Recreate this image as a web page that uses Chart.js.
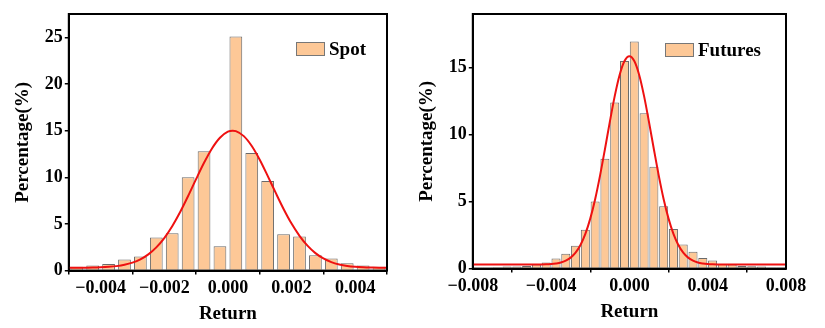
<!DOCTYPE html>
<html>
<head>
<meta charset="utf-8">
<script src="https://cdn.jsdelivr.net/npm/chart.js@4"></script>
<style>
  body { margin: 0; background: #fff; width: 825px; height: 328px; overflow: hidden; position: relative; }
  .box { position: absolute; top: 0; height: 328px; }
  .legend { position: absolute; display: flex; align-items: center; height: 18px;
            font: bold 19px 'Liberation Serif', 'Times New Roman', serif; color: #000; }
  .legend span.sw { width: 27px; height: 12px; border: 1px solid #777; margin-right: 4px; }
</style>
</head>
<body>
<div class="box" style="left:0;width:410px"><canvas id="spotChart"></canvas></div>
<div class="box" style="left:410px;width:415px"><canvas id="futChart"></canvas></div>
<div class="legend" id="spotLegend" style="left:296px;top:40px"></div>
<div class="legend" id="futLegend" style="left:665px;top:41px"></div>
<script>
// Spot: histogram (bin centres, bin width 0.0005) and fitted curve
const spotBins = [-0.00475,-0.00425,-0.00375,-0.00325,-0.00275,-0.00225,-0.00175,-0.00125,-0.00075,-0.00025,
                  0.00025,0.00075,0.00125,0.00175,0.00225,0.00275,0.00325,0.00375,0.00425,0.00475];
const spotPct = [0.4,0.55,0.7,1.2,1.5,3.55,4.0,10.0,12.8,2.6,25.1,12.6,9.6,3.9,3.65,1.65,1.3,0.8,0.55,0.4];
const spotCurveX = [-0.005,-0.00475,-0.0045,-0.00425,-0.004,-0.00375,-0.0035,-0.00325,-0.003,-0.00275,
                    -0.0025,-0.00225,-0.002,-0.00175,-0.0015,-0.00125,-0.001,-0.00075,-0.0005,-0.00025,
                    0,0.00015,0.00025,0.0005,0.00075,0.001,0.00125,0.0015,0.00175,0.002,
                    0.00225,0.0025,0.00275,0.003,0.00325,0.0035,0.00375,0.004,0.00425,0.0045,0.00475,0.005];
const spotCurveY = [0.30,0.30,0.31,0.32,0.35,0.40,0.48,0.62,0.85,1.21,
                    1.74,2.49,3.49,4.76,6.28,7.99,9.80,11.55,13.09,14.24,
                    14.89,15.0,14.95,14.41,13.35,11.88,10.15,8.35,6.61,5.04,
                    3.73,2.67,1.87,1.30,0.91,0.66,0.50,0.41,0.36,0.33,0.31,0.31];
const spotXTicks = [-0.004,-0.002,0,0.002,0.004];
const spotYTicks = [0,5,10,15,20,25];

// Futures: histogram and fitted curve
const futBins = [-0.00775,-0.00725,-0.00675,-0.00625,-0.00575,-0.00525,-0.00475,-0.00425,-0.00375,-0.00325,
                 -0.00275,-0.00225,-0.00175,-0.00125,-0.00075,-0.00025,0.00025,0.00075,0.00125,0.00175,
                 0.00225,0.00275,0.00325,0.00375,0.00425,0.00475,0.00525,0.00575,0.00625,0.00675,0.00725,0.00775];
const futPct = [0.05,0.05,0.1,0.15,0.15,0.2,0.3,0.45,0.75,1.1,
                1.7,2.9,5.0,8.2,12.4,15.5,16.95,11.6,7.6,4.65,
                2.95,1.8,1.25,0.8,0.6,0.35,0.3,0.2,0.18,0.15,0.08,0.08];
const futCurveX = [-0.008,-0.007,-0.006,-0.005,-0.0045,-0.00425,-0.004,-0.00375,-0.0035,-0.00325,-0.003,-0.00275,
                   -0.0025,-0.00225,-0.002,-0.00175,-0.0015,-0.00125,-0.001,-0.00075,-0.0005,-0.00025,
                   0,0.00025,0.0005,0.00075,0.001,0.00125,0.0015,0.00175,0.002,0.00225,0.0025,
                   0.00275,0.003,0.00325,0.0035,0.00375,0.004,0.00425,0.0045,0.005,0.006,0.007,0.008];
const futCurveY = [0.30,0.30,0.30,0.30,0.31,0.32,0.34,0.38,0.45,0.59,0.82,1.19,
                   1.76,2.59,3.73,5.18,6.94,8.91,10.95,12.87,14.45,15.49,
                   15.85,15.49,14.45,12.87,10.95,8.91,6.94,5.18,3.73,2.59,1.76,
                   1.19,0.82,0.59,0.45,0.38,0.34,0.32,0.31,0.30,0.30,0.30,0.30];
const futXTicks = [-0.008,-0.004,0,0.004,0.008];
const futYTicks = [0,5,10,15];

const FONT = "'Liberation Serif', 'Times New Roman', serif";
const BAR_FILL = '#FDC897';
const BAR_EDGE = 'rgba(80,80,80,0.85)';
const CURVE = '#EE1111';

const frame = {
  id: 'frame',
  afterDatasetsDraw(chart) {
    const a = chart.chartArea, c = chart.ctx;
    c.save();
    c.strokeStyle = '#000';
    c.lineWidth = 2;
    c.strokeRect(a.left, a.top, a.right - a.left, a.bottom - a.top);
    c.restore();
  }
};

function fmtX(v) {
  if (Math.abs(v) < 1e-12) return '0.000';
  return (v < 0 ? '\u2212' : '') + Math.abs(v).toFixed(3);
}

function makeChart(id, label, bins, pct, cx, cy, xr, ymax, xt, yt, barPct, pad) {
  const bars = bins.map((x, i) => ({ x: x, y: pct[i] }));
  const curve = cx.map((x, i) => ({ x: x, y: cy[i] }));
  return new Chart(document.getElementById(id), {
    type: 'bar',
    data: {
      datasets: [
        { type: 'line', label: 'fit', data: curve, borderColor: CURVE, borderWidth: 2,
          pointRadius: 0, cubicInterpolationMode: 'monotone', order: 0 },
        { label: label, data: bars, backgroundColor: BAR_FILL, borderColor: BAR_EDGE,
          borderWidth: 1, barPercentage: barPct, categoryPercentage: 1, order: 1 }
      ]
    },
    options: {
      responsive: true,
      maintainAspectRatio: false,
      animation: false,
      layout: { padding: pad },
      plugins: { legend: { display: false }, tooltip: { enabled: false } },
      scales: {
        x: {
          type: 'linear', min: xr[0], max: xr[1], offset: false,
          afterBuildTicks: s => { s.ticks = xt.map(v => ({ value: v })); },
          grid: { drawOnChartArea: false, drawTicks: true, tickLength: 4, tickColor: '#000', lineWidth: 1.5 },
          border: { color: '#000', width: 2 },
          ticks: { color: '#000', font: { family: FONT, size: 18, weight: 'bold' }, padding: 3,
                   maxRotation: 0, callback: v => fmtX(v) },
          title: { display: true, text: 'Return', color: '#000',
                   font: { family: FONT, size: 19, weight: 'bold' }, padding: { top: 0, bottom: 0 } }
        },
        y: {
          min: 0, max: ymax,
          afterBuildTicks: s => { s.ticks = yt.map(v => ({ value: v })); },
          grid: { drawOnChartArea: false, drawTicks: true, tickLength: 4, tickColor: '#000', lineWidth: 1.5 },
          border: { color: '#000', width: 2 },
          ticks: { color: '#000', font: { family: FONT, size: 18, weight: 'bold' }, padding: 2 },
          title: { display: true, text: 'Percentage(%)', color: '#000',
                   font: { family: FONT, size: 19, weight: 'bold' }, padding: { top: 0, bottom: 8 } }
        }
      }
    },
    plugins: [frame]
  });
}

makeChart('spotChart', 'Spot', spotBins, spotPct, spotCurveX, spotCurveY,
          [-0.005, 0.005], 27.5, spotXTicks, spotYTicks, 0.8,
          { left: 12, right: 23, top: 14, bottom: 3 });
makeChart('futChart', 'Futures', futBins, futPct, futCurveX, futCurveY,
          [-0.008, 0.008], 19, futXTicks, futYTicks, 0.92,
          { left: 6, right: 39, top: 14, bottom: 5 });

// HTML legends built from the bar datasets
function legend(id, text) {
  const el = document.getElementById(id);
  const sw = document.createElement('span');
  sw.className = 'sw';
  sw.style.background = BAR_FILL;
  el.appendChild(sw);
  el.appendChild(document.createTextNode(text));
}
legend('spotLegend', 'Spot');
legend('futLegend', 'Futures');
</script>
</body>
</html>
